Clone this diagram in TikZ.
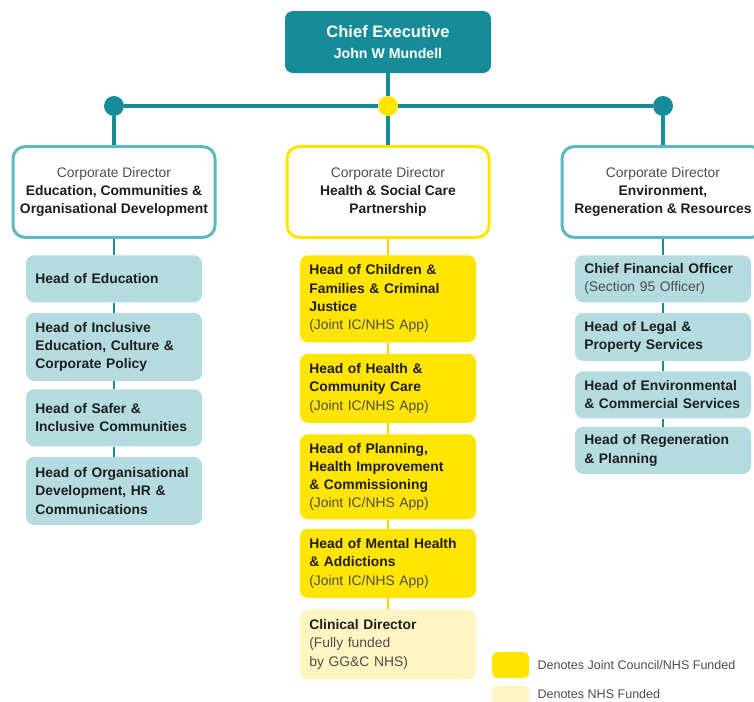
\documentclass[tikz,border=0pt]{standalone}
\usepackage{fontspec}
\setmainfont{Liberation Sans}
\usetikzlibrary{positioning}
\definecolor{ceoteal}{HTML}{178C99}
\definecolor{dirteal}{HTML}{5DB8C4}
\definecolor{headblue}{HTML}{B4DCE0}
\definecolor{jointyellow}{HTML}{FFE500}
\definecolor{linkyellow}{HTML}{F2D600}
\definecolor{nhsyellow}{HTML}{FFF5C2}
\definecolor{textgrey}{HTML}{4D4D4D}
\definecolor{textdark}{HTML}{1E1E1E}
\hyphenpenalty=10000

\begin{document}
\begin{tikzpicture}[
    x=0.75pt, y=-0.75pt,
    font=\fontsize{10.4}{13.7}\selectfont,
    ceo/.style={rectangle, rounded corners=6pt, fill=ceoteal, text=white, align=center, minimum width=154.5pt, minimum height=46.5pt},
    director/.style={rectangle, rounded corners=9pt, draw=dirteal, line width=2.25pt, fill=white, align=center, minimum width=151.5pt, minimum height=68pt, text=textdark},
    head/.style={rectangle, rounded corners=6pt, fill=headblue, align=left, text width=118pt, inner xsep=7pt, inner ysep=2pt, text=textdark, font=\fontsize{10.4}{13.7}\selectfont\bfseries},
    jhead/.style={head, fill=jointyellow},
    nhead/.style={head, fill=nhsyellow},
    dot/.style={circle, inner sep=0pt, minimum size=15pt},
    trunk/.style={draw=ceoteal, line width=2.6pt},
    link/.style={draw=ceoteal, line width=1.8pt},
    ylink/.style={draw=linkyellow, line width=1.8pt},
    swatch/.style={rectangle, rounded corners=4pt, minimum width=27.75pt, minimum height=19.5pt, inner sep=0pt},
    legend/.style={font=\fontsize{9.4}{11}\selectfont, text=textgrey, inner sep=0pt}
]
\useasboundingbox (0,0) rectangle (754,701);
\fill[white] (0,0) rectangle (754,701);

% --- Chief executive and trunk ---
\node[ceo] (CE) at (388,42) {\bfseries\fontsize{12.4}{15}\selectfont Chief Executive\\[2pt]\bfseries\fontsize{10.6}{13}\selectfont John W Mundell};
\node[dot, fill=ceoteal] (Ldot) at (114,106) {};
\node[dot, fill=jointyellow] (Mdot) at (388,106) {};
\node[dot, fill=ceoteal] (Rdot) at (663,106) {};
\draw[trunk] (CE) -- (Mdot);
\draw[trunk] (Ldot) -- (Mdot);
\draw[trunk] (Mdot) -- (Rdot);

% --- Corporate directors ---
\node[director] (D1) at (114,192) {{\color{textgrey}Corporate Director}\\\textbf{Education, Communities \&}\\\textbf{Organisational Development}};
\node[director, draw=jointyellow] (D2) at (388,192) {{\color{textgrey}Corporate Director}\\\textbf{Health \& Social Care}\\\textbf{Partnership}};
\node[director] (D3) at (663,192) {{\color{textgrey}Corporate Director}\\\textbf{Environment,}\\\textbf{Regeneration \& Resources}};
\draw[trunk] (Ldot) -- (D1);
\draw[trunk] (Mdot) -- (D2);
\draw[trunk] (Rdot) -- (D3);

% --- Education, communities & OD (left) ---
\node[head, anchor=north, minimum height=35.25pt] (LH1) at (114,255) {Head of Education};
\node[head, minimum height=51pt, below=7.5pt of LH1] (LH2) {Head of Inclusive\\Education, Culture \&\\Corporate Policy};
\node[head, minimum height=42.75pt, below=6pt of LH2] (LH3) {Head of Safer \&\\Inclusive Communities};
\node[head, minimum height=51pt, below=7.5pt of LH3] (LH4) {Head of Organisational\\Development, HR \&\\Communications};
\draw[link] (D1) -- (LH1);
\draw[link] (LH1) -- (LH2);
\draw[link] (LH2) -- (LH3);
\draw[link] (LH3) -- (LH4);

% --- Health & social care partnership (middle) ---
\node[jhead, anchor=north, minimum height=65.25pt] (MH1) at (388,255) {Head of Children \&\\Families \& Criminal\\Justice\\{\mdseries\color{textgrey}(Joint IC/NHS App)}};
\node[jhead, minimum height=51.75pt, below=8.25pt of MH1] (MH2) {Head of Health \&\\Community Care\\{\mdseries\color{textgrey}(Joint IC/NHS App)}};
\node[jhead, minimum height=63.75pt, below=8.25pt of MH2] (MH3) {Head of Planning,\\Health Improvement\\\& Commissioning\\{\mdseries\color{textgrey}(Joint IC/NHS App)}};
\node[jhead, minimum height=51.75pt, below=6.75pt of MH3] (MH4) {Head of Mental Health\\\& Addictions\\{\mdseries\color{textgrey}(Joint IC/NHS App)}};
\node[nhead, minimum height=52.5pt, below=8.25pt of MH4] (MH5) {Clinical Director\\{\mdseries\color{textgrey}(Fully funded}\\{\mdseries\color{textgrey}by GG\&C NHS)}};
\draw[ylink] (D2) -- (MH1);
\draw[ylink] (MH1) -- (MH2);
\draw[ylink] (MH2) -- (MH3);
\draw[ylink] (MH3) -- (MH4);
\draw[ylink] (MH4) -- (MH5);

% --- Environment, regeneration & resources (right) ---
\node[head, anchor=north, minimum height=35.25pt] (RH1) at (663,255) {Chief Financial Officer\\{\mdseries\color{textgrey}(Section 95 Officer)}};
\node[head, minimum height=36pt, below=7.5pt of RH1] (RH2) {Head of Legal \&\\Property Services};
\node[head, minimum height=35.25pt, below=7.5pt of RH2] (RH3) {Head of Environmental\\\& Commercial Services};
\node[head, minimum height=35.25pt, below=6pt of RH3] (RH4) {Head of Regeneration\\\& Planning};
\draw[link] (D3) -- (RH1);
\draw[link] (RH1) -- (RH2);
\draw[link] (RH2) -- (RH3);
\draw[link] (RH3) -- (RH4);

% --- Legend ---
\node[swatch, fill=jointyellow] (LegJ) at (510.5,665) {};
\node[legend, right=6pt of LegJ] (LegJtext) {Denotes Joint Council/NHS Funded};
\node[swatch, fill=nhsyellow, below=5.25pt of LegJ] (LegN) {};
\node[legend, right=6pt of LegN, yshift=3.5pt] (LegNtext) {Denotes NHS Funded};
\end{tikzpicture}
\end{document}
